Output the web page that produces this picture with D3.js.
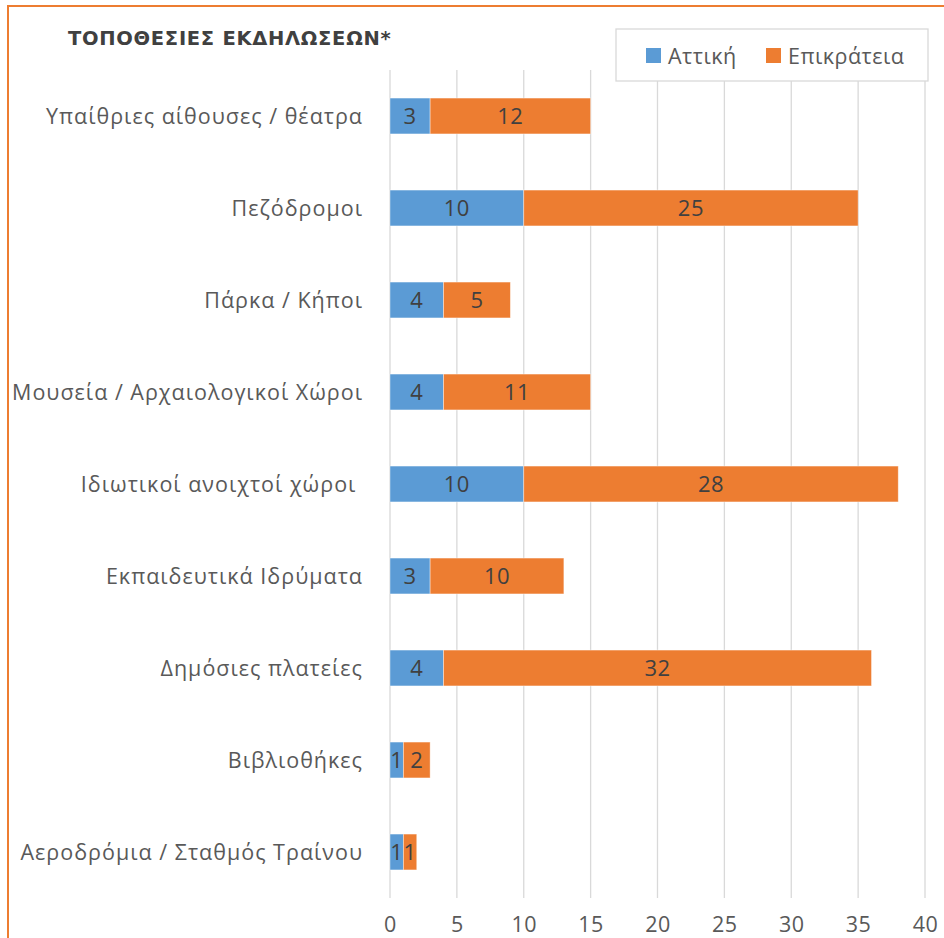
<!DOCTYPE html>
<meta charset="utf-8">
<style>
  body { margin: 0; background: #fff; }
  text { font-family: "Open Sans", "Noto Sans", sans-serif; }
</style>
<script src="https://d3js.org/d3.v7.min.js"></script>
<div id="chart"></div>
<script>

// categories and series
var categories = ["Υπαίθριες αίθουσες / θέατρα", "Πεζόδρομοι", "Πάρκα / Κήποι",
  "Μουσεία / Αρχαιολογικοί Χώροι", "Ιδιωτικοί ανοιχτοί χώροι ", "Εκπαιδευτικά Ιδρύματα",
  "Δημόσιες πλατείες", "Βιβλιοθήκες", "Αεροδρόμια / Σταθμός Τραίνου"];
var attiki = [3, 10, 4, 4, 10, 3, 4, 1, 1];
var epikrateia = [12, 25, 5, 11, 28, 10, 32, 2, 1];
var seriesNames = ["Αττική", "Επικράτεια"];
var xTicks = [0, 5, 10, 15, 20, 25, 30, 35, 40];
var colors = ["#5B9BD5", "#ED7D31"];

var W = 944, H = 938;
var margin = {top: 70, right: 19, bottom: 40, left: 390};
var width = W - margin.left - margin.right,
    height = H - margin.top - margin.bottom;

var svg = d3.select("#chart").append("svg")
  .attr("width", W).attr("height", H);

// outer border
svg.append("rect")
  .attr("x", 8).attr("y", 6).attr("width", W).attr("height", H)
  .attr("fill", "none").attr("stroke", "#ED7D31").attr("stroke-width", 2);

var g = svg.append("g").attr("transform", "translate(" + margin.left + "," + margin.top + ")");

var x = d3.scaleLinear().domain([0, 40]).range([0, width]);
var y = d3.scaleBand().domain(categories).range([0, height]).paddingInner(0.61).paddingOuter(0.305);

// gridlines
g.selectAll(".grid").data(xTicks).enter().append("line")
  .attr("x1", function(d) { return x(d); }).attr("x2", function(d) { return x(d); })
  .attr("y1", 0).attr("y2", height)
  .attr("stroke", "#d9d9d9").attr("stroke-width", 1.3);

// x axis
var xAxis = g.append("g").attr("transform", "translate(0," + height + ")")
  .call(d3.axisBottom(x).tickValues(xTicks).tickSize(0).tickPadding(19));
xAxis.select(".domain").remove();
xAxis.selectAll("text").attr("font-size", 21.5).attr("fill", "#595959")
  .style("font-family", "Open Sans, sans-serif").style("letter-spacing", "0.5px");

// y labels
g.selectAll(".cat").data(categories).enter().append("text")
  .attr("x", -27).attr("y", function(d) { return y(d) + y.bandwidth() / 2; })
  .attr("dy", "0.35em").attr("text-anchor", "end")
  .style("white-space", "pre").style("letter-spacing", "1px")
  .attr("font-size", 21.5).attr("fill", "#595959")
  .text(function(d) { return d; });

// stacked bars
var rows = categories.map(function(c, i) { return {cat: c, a: attiki[i], e: epikrateia[i]}; });
var stack = d3.stack().keys(["a", "e"])(rows);

stack.forEach(function(layer, li) {
  var lg = g.append("g");
  lg.selectAll("rect").data(layer).enter().append("rect")
    .attr("x", function(d) { return x(d[0]); })
    .attr("y", function(d) { return y(d.data.cat); })
    .attr("width", function(d) { return x(d[1]) - x(d[0]); })
    .attr("height", y.bandwidth())
    .attr("fill", colors[li])
    .attr("stroke", "#fff").attr("stroke-opacity", 0.5).attr("stroke-width", 0.8);
  lg.selectAll("text").data(layer).enter().append("text")
    .attr("x", function(d) { return (x(d[0]) + x(d[1])) / 2; })
    .attr("y", function(d) { return y(d.data.cat) + y.bandwidth() / 2; })
    .attr("dy", "0.36em").attr("text-anchor", "middle")
    .attr("font-size", 22).attr("fill", "#404040").style("letter-spacing", "0.5px")
    .text(function(d) { return d[1] - d[0]; });
});

// title
svg.append("text").attr("x", 68).attr("y", 45)
  .style("font-family", "DejaVu Sans, sans-serif").attr("font-weight", "bold")
  .attr("font-size", 19.5).attr("fill", "#404040").style("letter-spacing", "0.7px")
  .text("ΤΟΠΟΘΕΣΙΕΣ ΕΚΔΗΛΩΣΕΩΝ*");

// legend
var leg = svg.append("g");
leg.append("rect").attr("x", 616).attr("y", 29).attr("width", 312).attr("height", 52)
  .attr("fill", "#fff").attr("stroke", "#d9d9d9").attr("stroke-width", 1.3);
var legX = [646, 766];
seriesNames.forEach(function(n, i) {
  leg.append("rect").attr("x", legX[i]).attr("y", 48).attr("width", 15).attr("height", 15)
    .attr("fill", colors[i]);
  leg.append("text").attr("x", legX[i] + 22).attr("y", 56).attr("dy", "0.35em")
    .attr("font-size", 21.5).attr("fill", "#595959").style("letter-spacing", "0.5px").text(n);
});

</script>
